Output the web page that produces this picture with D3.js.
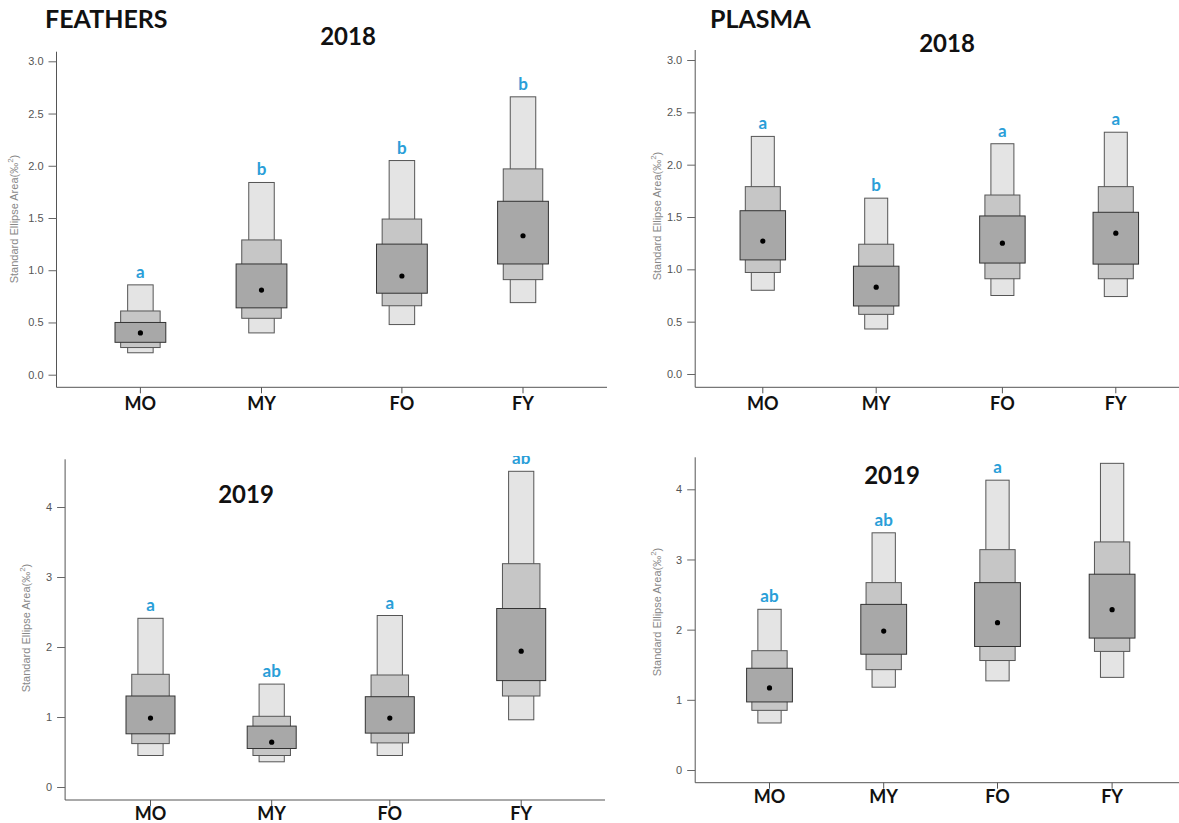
<!DOCTYPE html>
<html>
<head>
<meta charset="utf-8">
<script src="https://cdn.jsdelivr.net/npm/d3@7"></script>
<style>
  html, body { margin: 0; padding: 0; background: #fff; }
  svg { display: block; }
</style>
</head>
<body>
<svg id="chart" width="1179" height="823"></svg>
<script>
// Groups: male/female, old/young
const groups = ["MO", "MY", "FO", "FY"];

// Standard ellipse area credible intervals [low, high] per group
// Feathers 2018
const feathers2018Light = [[0.21, 0.86], [0.40, 1.84], [0.48, 2.05], [0.69, 2.66]];
const feathers2018Mid   = [[0.26, 0.61], [0.54, 1.29], [0.66, 1.49], [0.91, 1.97]];
const feathers2018Dark  = [[0.31, 0.50], [0.64, 1.06], [0.78, 1.25], [1.06, 1.66]];
const feathers2018Mode  = [0.40, 0.81, 0.945, 1.33];
const feathers2018Sig   = ["a", "b", "b", "b"];

// Plasma 2018
const plasma2018Light = [[0.80, 2.27], [0.43, 1.68], [0.75, 2.20], [0.74, 2.31]];
const plasma2018Mid   = [[0.97, 1.79], [0.57, 1.24], [0.91, 1.71], [0.91, 1.79]];
const plasma2018Dark  = [[1.09, 1.56], [0.65, 1.03], [1.06, 1.51], [1.05, 1.545]];
const plasma2018Mode  = [1.27, 0.83, 1.25, 1.345];
const plasma2018Sig   = ["a", "b", "a", "a"];

// Feathers 2019
const feathers2019Light = [[0.45, 2.41], [0.36, 1.47], [0.45, 2.45], [0.96, 4.51]];
const feathers2019Mid   = [[0.62, 1.61], [0.45, 1.01], [0.63, 1.60], [1.30, 3.19]];
const feathers2019Dark  = [[0.76, 1.30], [0.55, 0.87], [0.77, 1.29], [1.52, 2.55]];
const feathers2019Mode  = [0.985, 0.64, 0.985, 1.94];
const feathers2019Sig   = ["a", "ab", "a", "ab"];

// Plasma 2019
const plasma2019Light = [[0.67, 2.29], [1.18, 3.38], [1.27, 4.13], [1.32, 4.37]];
const plasma2019Mid   = [[0.85, 1.70], [1.43, 2.67], [1.56, 3.14], [1.69, 3.25]];
const plasma2019Dark  = [[0.97, 1.45], [1.65, 2.36], [1.76, 2.67], [1.88, 2.79]];
const plasma2019Mode  = [1.17, 1.98, 2.10, 2.285];
const plasma2019Sig   = ["ab", "ab", "a", ""];

// Axis ticks
const ticks2018 = [0, 0.5, 1.0, 1.5, 2.0, 2.5, 3.0];
const ticks2019 = [0, 1, 2, 3, 4];

const panels = [
  { title: "2018", light: feathers2018Light, mid: feathers2018Mid, dark: feathers2018Dark, mode: feathers2018Mode, sig: feathers2018Sig,
    ticks: ticks2018, fmt: d3.format(".1f"), domain: [0, 3], range: [374.7, 61.3],
    axisX: 56.5, axisTop: 51.7, axisBottom: 387.3, axisRight: 607,
    xs: [140.4, 261.5, 401.9, 523], widths: [25.5, 39.5, 50.8],
    titleX: 348, titleY: 45, groupLabelY: 410, yLabelX: 18, yLabelY: 219, clipTop: null },
  { title: "2018", light: plasma2018Light, mid: plasma2018Mid, dark: plasma2018Dark, mode: plasma2018Mode, sig: plasma2018Sig,
    ticks: ticks2018, fmt: d3.format(".1f"), domain: [0, 3], range: [374, 60],
    axisX: 695.2, axisTop: 50, axisBottom: 387.3, axisRight: 1179,
    xs: [762.8, 876.2, 1002.4, 1115.8], widths: [23, 35, 45.5],
    titleX: 947, titleY: 52, groupLabelY: 410, yLabelX: 661, yLabelY: 216, clipTop: null },
  { title: "2019", light: feathers2019Light, mid: feathers2019Mid, dark: feathers2019Dark, mode: feathers2019Mode, sig: feathers2019Sig,
    ticks: ticks2019, fmt: d3.format("d"), domain: [0, 4], range: [787, 507],
    axisX: 65.1, axisTop: 459.3, axisBottom: 800, axisRight: 605,
    xs: [150.5, 271.7, 389.8, 521.2], widths: [25.2, 37.5, 49],
    titleX: 246, titleY: 502.5, groupLabelY: 819.5, yLabelX: 30, yLabelY: 628, clipTop: 456 },
  { title: "2019", light: plasma2019Light, mid: plasma2019Mid, dark: plasma2019Dark, mode: plasma2019Mode, sig: plasma2019Sig,
    ticks: ticks2019, fmt: d3.format("d"), domain: [0, 4], range: [770, 489.3],
    axisX: 695.2, axisTop: 457.3, axisBottom: 782.7, axisRight: 1179,
    xs: [769.5, 883.7, 997.5, 1112.1], widths: [23.3, 35.3, 45.8],
    titleX: 892, titleY: 484, groupLabelY: 803, yLabelX: 661, yLabelY: 612, clipTop: null }
];

const svg = d3.select("#chart");
const boldFont = "Lato, 'Open Sans', sans-serif";
const axisFont = "'Liberation Sans', Arial, sans-serif";

// Section headings
svg.append("text").attr("x", 45).attr("y", 28)
  .attr("font-family", boldFont).attr("font-weight", 700).attr("font-size", 25)
  .attr("fill", "#111").text("FEATHERS");
svg.append("text").attr("x", 710).attr("y", 28)
  .attr("font-family", boldFont).attr("font-weight", 700).attr("font-size", 25)
  .attr("fill", "#111").text("PLASMA");

const fills = { light: "#e4e4e4", mid: "#c6c6c6", dark: "#a8a8a8" };
const strokes = { light: "#555", mid: "#555", dark: "#333" };

panels.forEach((p, pi) => {
  const g = svg.append("g");
  const y = d3.scaleLinear().domain(p.domain).range(p.range);
  const x = d3.scaleOrdinal().domain(groups).range(p.xs);
  const w = d3.scaleOrdinal().domain(["light", "mid", "dark"]).range(p.widths);

  // Left axis line and ticks
  g.append("line").attr("x1", p.axisX).attr("x2", p.axisX)
    .attr("y1", p.axisTop).attr("y2", p.axisBottom)
    .attr("stroke", "#555").attr("stroke-width", 1);
  const yAxis = g.append("g").attr("transform", `translate(${p.axisX},0)`)
    .call(d3.axisLeft(y).tickValues(p.ticks).tickFormat(p.fmt).tickSize(8).tickPadding(5));
  yAxis.select(".domain").remove();
  yAxis.selectAll(".tick line").attr("stroke", "#666");
  yAxis.selectAll(".tick text").attr("fill", "#555")
    .attr("font-family", axisFont).attr("font-size", 11);

  // Bottom axis line and category ticks
  g.append("line").attr("x1", p.axisX).attr("x2", p.axisRight)
    .attr("y1", p.axisBottom).attr("y2", p.axisBottom)
    .attr("stroke", "#555").attr("stroke-width", 1);
  g.selectAll(".xtick").data(groups).join("line")
    .attr("x1", d => x(d)).attr("x2", d => x(d))
    .attr("y1", p.axisBottom).attr("y2", p.axisBottom + 6)
    .attr("stroke", "#555");
  g.selectAll(".xlab").data(groups).join("text")
    .attr("x", d => x(d)).attr("y", p.groupLabelY)
    .attr("text-anchor", "middle")
    .attr("font-family", boldFont).attr("font-weight", 700).attr("font-size", 18)
    .attr("fill", "#111").text(d => d);

  // Y axis title
  const yt = g.append("text")
    .attr("transform", `translate(${p.yLabelX},${p.yLabelY}) rotate(-90)`)
    .attr("text-anchor", "middle")
    .attr("font-family", axisFont).attr("font-size", 11).attr("fill", "#888");
  yt.append("tspan").text("Standard Ellipse Area(‰");
  yt.append("tspan").attr("font-size", 8).attr("dy", -5).text("2");
  yt.append("tspan").attr("dy", 5).text(")");

  // Panel title
  g.append("text").attr("x", p.titleX).attr("y", p.titleY)
    .attr("text-anchor", "middle")
    .attr("font-family", boldFont).attr("font-weight", 700).attr("font-size", 24)
    .attr("fill", "#111").text(p.title);

  // Nested credible-interval boxes
  [["light", p.light], ["mid", p.mid], ["dark", p.dark]].forEach(([level, arr]) => {
    g.selectAll(`.box-${level}`).data(arr.map((v, i) => ({ grp: groups[i], lo: v[0], hi: v[1] })))
      .join("rect")
      .attr("x", d => x(d.grp) - w(level) / 2)
      .attr("width", w(level))
      .attr("y", d => y(d.hi))
      .attr("height", d => y(d.lo) - y(d.hi))
      .attr("fill", fills[level])
      .attr("stroke", strokes[level])
      .attr("stroke-width", 1);
  });

  // Mode points
  g.selectAll(".mode").data(p.mode.map((v, i) => ({ grp: groups[i], v })))
    .join("circle")
    .attr("cx", d => x(d.grp)).attr("cy", d => y(d.v)).attr("r", 2.6)
    .attr("fill", "#000");

  // Significance letters
  const sigLayer = g.append("g");
  if (p.clipTop !== null) {
    const id = `clip-${pi}`;
    svg.append("clipPath").attr("id", id).append("rect")
      .attr("x", 0).attr("y", p.clipTop).attr("width", 1179).attr("height", 823 - p.clipTop);
    sigLayer.attr("clip-path", `url(#${id})`);
  }
  sigLayer.selectAll("text").data(p.sig.map((s, i) => ({ grp: groups[i], s, top: p.light[i][1] })))
    .join("text")
    .attr("x", d => x(d.grp)).attr("y", d => y(d.top) - 7)
    .attr("text-anchor", "middle")
    .attr("font-family", boldFont).attr("font-weight", 700).attr("font-size", 17)
    .attr("fill", "#2a9ed8").text(d => d.s);
});
</script>
</body>
</html>
